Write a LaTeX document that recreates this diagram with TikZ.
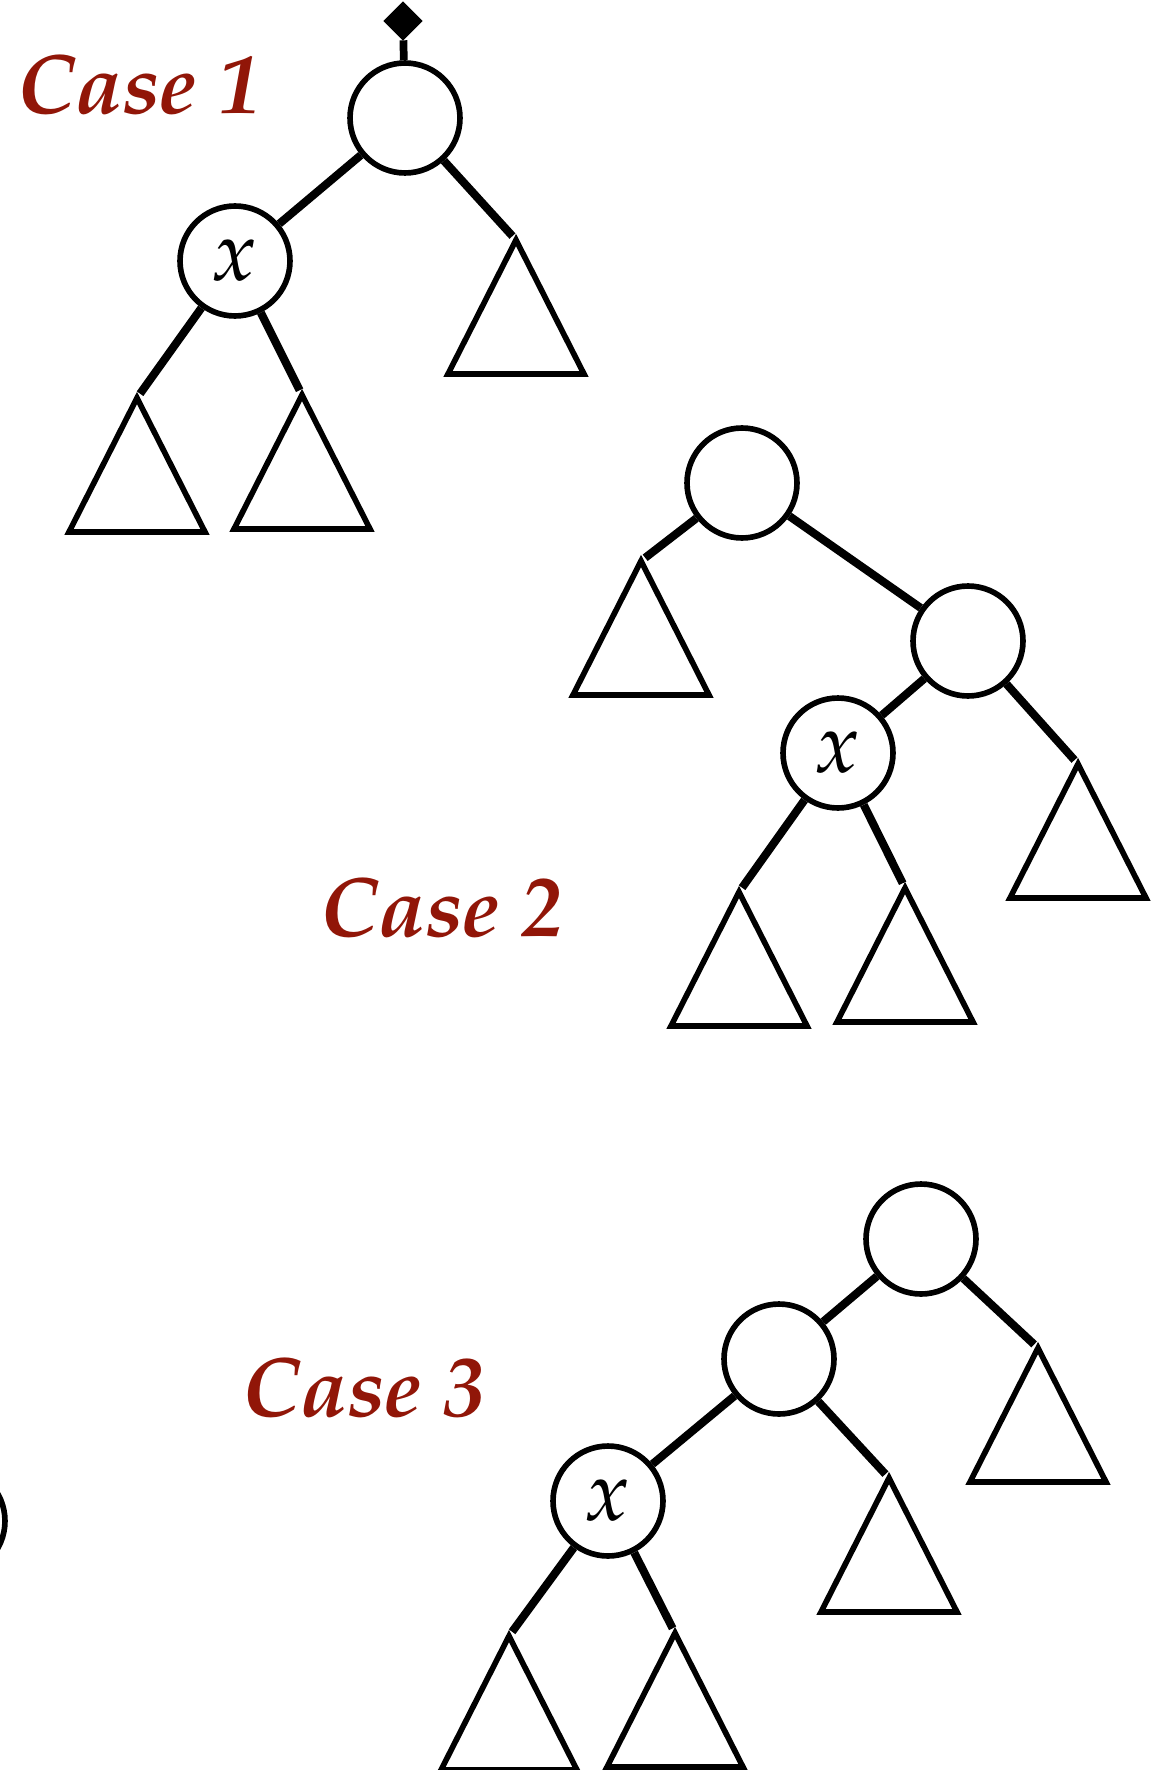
\documentclass[tikz,border=0pt]{standalone}
\usepackage{tikz}
\usetikzlibrary{shapes.geometric}

\definecolor{casered}{RGB}{145,22,8}
\newcommand{\casefont}{\fontencoding{OT1}\fontfamily{ppl}\fontseries{b}\fontshape{it}\fontsize{48}{56}\selectfont}
\newcommand{\keyfont}{\fontencoding{OT1}\fontfamily{ppl}\fontseries{m}\fontshape{it}\fontsize{48}{54}\selectfont}

\begin{document}
\begin{tikzpicture}[x=0.02cm, y=-0.02cm,
    vertex/.style={draw, circle, line width=3.2pt, minimum size=2.2cm, inner sep=0pt, font=\keyfont},
    treeedge/.style={line width=4.6pt},
    tip/.style={shorten >=3pt},
    subtree/.style={line width=3.2pt, line join=miter},
    caselabel/.style={text=casered, font=\casefont}]
        \useasboundingbox (0,0) rectangle (1160,1770);

        % case 1
        \node[caselabel] (case1) at (139,85) {Case 1};
        \node[vertex] (r1) at (405,118) {};
        \node[vertex] (x1) at (235,261) {x};
        \node[draw, fill, diamond, line width=0.8pt, inner sep=0pt, minimum size=0.76cm] (top) at (403,21) {};
        \coordinate (a1) at (516,240);
        \coordinate (a2) at (137,398);
        \coordinate (a3) at (302,395);
        \draw[line width=4.4pt] (r1) -- (top);
        \draw[treeedge] (r1) -- (x1);
        \draw[treeedge, tip] (r1) -- (a1);
        \draw[treeedge, tip] (x1) -- (a2);
        \draw[treeedge, tip] (x1) -- (a3);

        % case 2
        \node[caselabel] (case2) at (442,908) {Case 2};
        \node[vertex] (r2) at (742,483) {};
        \node[vertex] (c2) at (968,641) {};
        \node[vertex] (x2) at (838,753) {x};
        \coordinate (b1) at (641,561);
        \coordinate (b2) at (1078,764);
        \coordinate (b3) at (739,892);
        \coordinate (b4) at (905,888);
        \draw[treeedge, tip] (r2) -- (b1);
        \draw[treeedge] (r2) -- (c2);
        \draw[treeedge] (c2) -- (x2);
        \draw[treeedge, tip] (c2) -- (b2);
        \draw[treeedge, tip] (x2) -- (b3);
        \draw[treeedge, tip] (x2) -- (b4);

        % case 3
        \node[caselabel] (case3) at (364,1388) {Case 3};
        \node[vertex] (r3) at (921,1239) {};
        \node[vertex] (c3) at (779,1359) {};
        \node[vertex] (x3) at (608,1501) {x};
        \node[vertex] (prev) at (-50,1521) {};
        \coordinate (d1) at (1038,1348);
        \coordinate (d2) at (889,1478);
        \coordinate (d3) at (509,1636);
        \coordinate (d4) at (675,1633);
        \draw[treeedge] (r3) -- (c3);
        \draw[treeedge, tip] (r3) -- (d1);
        \draw[treeedge] (c3) -- (x3);
        \draw[treeedge, tip] (c3) -- (d2);
        \draw[treeedge, tip] (x3) -- (d3);
        \draw[treeedge, tip] (x3) -- (d4);

        % subtrees hang below each apex
        \foreach \t in {a1,a2,a3,b1,b2,b3,b4,d1,d2,d3,d4}
            \draw[subtree] (\t) -- ++(-68,134) -- ++(136,0) -- cycle;
\end{tikzpicture}
\end{document}
